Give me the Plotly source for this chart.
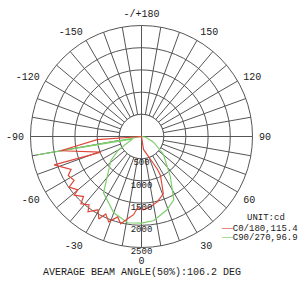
import plotly.graph_objects as go

# ---- data ----
angle_ticks = list(range(0, 360, 10))
angle_labels = {0: "0", 30: "30", 60: "60", 90: "90", 120: "120", 150: "150",
                180: "-/+180", 210: "-150", 240: "-120", 270: "-90", 300: "-60", 330: "-30"}
radial_ticks = [500, 1000, 1500, 2000, 2500]

c0_theta = [-88, -86, -80, -69, -72, -65, -62, -57, -55, -50, -49, -44, -42, -37.5, -35.4,
            -30.7, -27.4, -24.8, -21, -16.5, -13.4, -9.6, -5.8, -3, 1.5, 7, 13.6, 20.8,
            22.4, 26, 25.9, 21.4, 8.7, 9]
c0_r = [0, 1000, 1850, 980, 2070, 1750, 1870, 1810, 1990, 1870, 2010, 1880, 2040, 1940, 2080,
        1920, 2090, 1920, 2060, 1890, 2020, 1880, 1770, 1600, 1650, 1600, 1515, 1380,
        1230, 970, 820, 550, 295, 0]

c90_theta = [-90, -80, -75, -60, -52, -34, -20, -9, 0, 8, 19, 27, 36, 51, 65, 80, 90]
c90_r = [0, 2400, 200, 600, 875, 1530, 1830, 1967, 1950, 1916, 1750, 1600, 1100, 634, 300, 100, 0]

c0_name = "C0/180"
c0_beam = 115.4
c90_name = "C90/270"
c90_beam = 96.9
avg_beam = 106.2
unit_text = "UNIT:cd"

inner_theta = list(range(0, 361, 5))

# ---- style ----
GRID = "#555555"
RED = "#e0483a"
GREEN = "#7ccf6c"
FONT = "Liberation Mono"
TXT = "#1a1a1a"

fig = go.Figure()

# white inner disc (hides spokes inside first ring)
fig.add_trace(go.Scatterpolar(
    theta=inner_theta, r=[radial_ticks[0]] * len(inner_theta), mode="lines",
    fill="toself", fillcolor="white", line=dict(color=GRID, width=1),
    showlegend=False, hoverinfo="skip"))
# cross lines inside the inner disc
for a in (0, 90):
    fig.add_trace(go.Scatterpolar(
        theta=[a, a, a + 180], r=[radial_ticks[0], 0, radial_ticks[0]], mode="lines",
        line=dict(color=GRID, width=1), showlegend=False, hoverinfo="skip"))

fig.add_trace(go.Scatterpolar(theta=c90_theta, r=c90_r, mode="lines",
                              line=dict(color=GREEN, width=1.2), showlegend=False))
fig.add_trace(go.Scatterpolar(theta=c0_theta, r=c0_r, mode="lines",
                              line=dict(color=RED, width=1.2), showlegend=False))

# radial labels along the 0° spoke
fig.add_trace(go.Scatterpolar(
    theta=[0] * len(radial_ticks), r=radial_ticks, mode="text",
    text=[str(v) for v in radial_ticks], textposition="bottom center",
    textfont=dict(family=FONT, size=9, color=TXT), showlegend=False, hoverinfo="skip"))

fig.update_layout(
    template="none",
    width=300, height=282,
    margin=dict(l=0, r=0, t=0, b=0),
    paper_bgcolor="white",
    showlegend=False,
    font=dict(family=FONT, color=TXT),
    polar=dict(
        domain=dict(x=[0.1017, 0.8417], y=[0.1223, 0.9096]),
        bgcolor="white",
        angularaxis=dict(
            rotation=270, direction="counterclockwise",
            tickmode="array", tickvals=angle_ticks,
            ticktext=[angle_labels.get(a, "") for a in angle_ticks],
            ticks="outside", ticklen=4, tickcolor="rgba(0,0,0,0)",
            showline=True, linecolor=GRID, linewidth=1,
            gridcolor=GRID, gridwidth=1,
            tickfont=dict(family=FONT, size=10, color=TXT)),
        radialaxis=dict(
            range=[0, 2500], tickmode="array", tickvals=radial_ticks,
            showticklabels=False, ticks="", showline=False,
            gridcolor=GRID, gridwidth=1, angle=-90),
    ),
    annotations=[
        dict(text=unit_text, x=0.957, y=0.227, xref="paper", yref="paper",
             xanchor="right", yanchor="middle", showarrow=False,
             font=dict(family=FONT, size=9, color=TXT)),
        dict(text=f"<span style='color:{RED}'>——</span>{c0_name},{c0_beam}",
             x=1.0, y=0.188, xref="paper", yref="paper",
             xanchor="right", yanchor="middle", showarrow=False,
             font=dict(family=FONT, size=9, color=TXT)),
        dict(text=f"<span style='color:{GREEN}'>——</span>{c90_name},{c90_beam}",
             x=1.0, y=0.156, xref="paper", yref="paper",
             xanchor="right", yanchor="middle", showarrow=False,
             font=dict(family=FONT, size=9, color=TXT)),
        dict(text=f"AVERAGE BEAM ANGLE(50%):{avg_beam} DEG", x=0.472, y=0.035,
             xref="paper", yref="paper", xanchor="center", yanchor="middle",
             showarrow=False, font=dict(family=FONT, size=10, color=TXT)),
    ],
)

fig.write_html("out.html", config={"displayModeBar": False},
               post_script="document.body.style.margin='0';document.body.style.overflow='hidden';")
